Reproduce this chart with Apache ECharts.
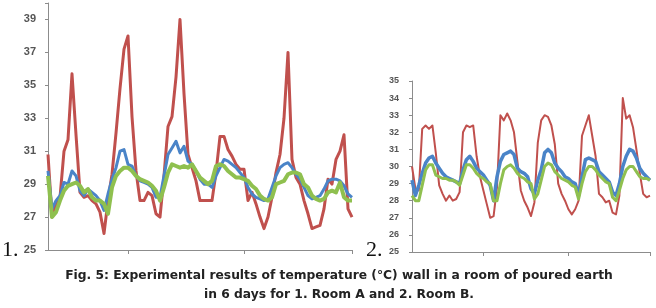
<!DOCTYPE html>
<html>
<head>
<meta charset="utf-8">
<script src="https://cdn.jsdelivr.net/npm/echarts@6/dist/echarts.min.js"></script>
<style>
html,body{margin:0;padding:0;background:#fff;}
#chart{width:656px;height:308px;}
</style>
</head>
<body>
<div id="chart"></div>
<script>
// Room A (chart 1) - wall temperatures
var roomA_red = [30.8,27.0,27.8,28.2,31.0,31.7,35.7,32.0,28.5,28.2,28.3,28.0,27.8,27.3,26.0,28.0,29.6,32.1,34.8,37.2,
  38.0,33.1,29.8,28.0,28.0,28.5,28.3,27.2,27.0,29.5,32.5,33.1,35.5,39.0,34.5,30.8,30.0,29.2,28.0,28.0,
  28.0,28.0,29.7,31.9,31.9,31.1,30.7,30.2,29.9,29.9,28.0,28.5,27.8,27.0,26.3,27.0,28.2,29.7,30.8,33.0,
  37.0,30.5,29.4,29.0,28.0,27.2,26.3,26.4,26.5,27.5,29.3,29.0,30.5,31.0,32.0,27.5,27.0];
var roomA_blue = [29.8,27.5,28.0,28.3,29.1,29.0,29.8,29.5,28.6,28.3,28.7,28.5,28.3,28.0,27.4,28.4,29.3,30.0,31.0,31.1,
  30.2,30.1,29.5,29.2,29.1,29.0,28.8,28.2,28.2,29.5,30.8,31.2,31.6,30.9,31.3,30.4,30.2,29.8,29.3,29.0,
  29.0,28.8,29.5,30.0,30.5,30.4,30.2,30.0,29.7,29.4,28.8,28.4,28.2,28.1,28.0,28.1,28.8,29.5,30.0,30.2,
  30.3,30.0,29.6,29.3,28.8,28.3,28.1,28.2,28.3,28.7,29.2,29.3,29.3,29.2,28.9,28.4,28.2];
var roomA_green = [29.5,27.0,27.3,28.0,28.6,28.9,29.0,29.1,28.9,28.5,28.7,28.2,28.0,28.0,27.8,27.2,28.8,29.5,29.8,30.0,
  30.0,29.8,29.5,29.3,29.2,29.1,28.9,28.6,28.0,28.8,29.7,30.2,30.1,30.0,30.1,30.0,30.2,29.8,29.4,29.2,
  29.0,29.2,30.1,30.2,30.1,29.8,29.6,29.4,29.4,29.3,29.2,28.9,28.7,28.3,28.1,28.0,28.2,29.0,29.1,29.2,
  29.6,29.7,29.7,29.6,29.0,28.8,28.3,28.1,28.0,28.1,28.5,28.6,28.5,29.1,28.2,28.0,28.0];

// Room B (chart 2)
var roomB_red = [30.0,28.7,28.6,32.2,32.4,32.2,32.4,30.8,28.9,28.4,28.0,28.3,28.0,28.1,28.5,32.0,32.4,32.3,32.4,30.6,
  29.4,28.6,27.8,27.0,27.1,28.8,33.0,32.7,33.1,32.7,32.0,30.3,28.6,28.0,27.6,27.1,27.9,31.4,32.7,33.0,
  32.9,32.4,31.3,29.0,28.4,28.0,27.5,27.2,27.5,28.0,31.8,32.4,33.0,31.8,30.6,28.4,28.2,27.9,28.0,27.3,
  27.2,28.3,34.0,32.8,33.0,32.3,31.0,29.6,28.4,28.2,28.3];
var roomB_blue = [29.2,28.3,28.9,29.6,30.2,30.5,30.6,30.2,29.9,29.6,29.4,29.3,29.2,29.1,29.0,29.8,30.4,30.6,30.3,29.9,
  29.7,29.5,29.2,28.9,28.0,29.4,30.3,30.7,30.8,30.9,30.7,29.9,29.7,29.6,29.4,28.7,28.4,29.2,29.8,30.8,
  31.0,30.8,30.2,29.9,29.7,29.4,29.3,29.1,29.0,28.3,29.4,30.4,30.5,30.4,30.3,29.7,29.5,29.3,29.1,28.5,
  28.3,29.0,30.0,30.6,31.0,30.9,30.5,29.9,29.6,29.4,29.2];
var roomB_green = [28.3,28.0,28.0,28.9,29.8,30.1,30.1,29.5,29.4,29.3,29.3,29.2,29.2,29.1,28.9,29.5,30.1,30.1,29.9,29.6,
  29.4,29.3,29.1,29.0,28.0,28.0,29.0,29.8,30.0,30.1,29.9,29.6,29.4,29.3,29.1,29.0,28.1,28.4,29.2,30.0,
  30.2,30.1,29.7,29.5,29.3,29.2,29.1,28.9,28.8,28.1,29.0,29.7,30.0,30.0,29.8,29.5,29.3,29.1,29.0,28.2,
  28.0,28.6,29.3,29.8,30.0,30.0,29.7,29.4,29.3,29.3,29.2];

// tick positions on the time axes (sample index)
var ticksA = [20, 49, 76];
var ticksB = [21, 46, 70];

var catsA = roomA_red.map(function(v, i){ return String(i); });
var catsB = roomB_red.map(function(v, i){ return String(i); });

var RED = '#C0504D', BLUE = '#4A84C8', GREEN = '#8FC04F';
var AXIS = '#8C8C8C';
var CAPTION_FONT = 'bold 13px "DejaVu Sans Condensed", "DejaVu Sans", sans-serif';

function xAxisFor(gridIndex, cats, ticks){
  return {
    type: 'category',
    gridIndex: gridIndex,
    data: cats,
    boundaryGap: false,
    axisLine: { lineStyle: { color: AXIS, width: 1 } },
    axisTick: {
      show: true,
      length: 4,
      lineStyle: { color: AXIS },
      interval: function(index){ return ticks.indexOf(index) >= 0; }
    },
    axisLabel: { show: false },
    splitLine: { show: false }
  };
}

function yAxisFor(gridIndex, min, max, step, size, margin){
  return {
    type: 'value',
    gridIndex: gridIndex,
    min: min,
    max: max,
    interval: step,
    axisLine: { show: true, lineStyle: { color: AXIS, width: 1 } },
    axisTick: { show: true, length: 3, lineStyle: { color: AXIS } },
    axisLabel: {
      color: '#555555',
      fontSize: size,
      fontWeight: 'bold',
      fontFamily: 'Liberation Sans, Arial, sans-serif',
      margin: margin,
      // hide the label at the top of axis A (40 is not on the 2-step)
      formatter: function(v){ return (v - min) % step === 0 ? String(v) : ''; }
    },
    splitLine: { show: false }
  };
}

function line(name, data, color, width, xi){
  return {
    name: name,
    type: 'line',
    xAxisIndex: xi,
    yAxisIndex: xi,
    data: data,
    showSymbol: false,
    symbol: 'none',
    animation: false,
    lineStyle: { color: color, width: width, join: 'round' },
    itemStyle: { color: color }
  };
}

function caption(text, y){
  return {
    type: 'text', x: 339, y: y, scaleX: 1.05,
    style: { text: text, font: CAPTION_FONT, fill: '#222', textAlign: 'center', textVerticalAlign: 'top' }
  };
}

var chart = echarts.init(document.getElementById('chart'), null, { renderer: 'canvas' });
var option = {
  backgroundColor: '#ffffff',
  animation: false,
  grid: [
    { left: 48, top: 3, width: 304, height: 247 },
    { left: 412, top: 81, width: 238, height: 171 }
  ],
  xAxis: [ xAxisFor(0, catsA, ticksA), xAxisFor(1, catsB, ticksB) ],
  yAxis: [ yAxisFor(0, 25, 40, 2, 11, 12), yAxisFor(1, 25, 35, 1, 9, 13) ],
  series: [
    line('Room A red', roomA_red, RED, 3, 0),
    line('Room A blue', roomA_blue, BLUE, 3, 0),
    line('Room A green', roomA_green, GREEN, 4, 0),
    line('Room B red', roomB_red, RED, 2, 1),
    line('Room B blue', roomB_blue, BLUE, 3.5, 1),
    line('Room B green', roomB_green, GREEN, 3, 1)
  ],
  graphic: [
    { type: 'text', left: 2, top: 239, style: { text: '1.', font: '22px "Liberation Serif", serif', fill: '#111' } },
    { type: 'text', left: 366, top: 239, style: { text: '2.', font: '22px "Liberation Serif", serif', fill: '#111' } },
    caption('Fig. 5: Experimental results of temperature (°C) wall in a room of poured earth', 269),
    caption('in 6 days for 1. Room A and 2. Room B.', 288)
  ]
};
chart.setOption(option);
</script>
</body>
</html>
